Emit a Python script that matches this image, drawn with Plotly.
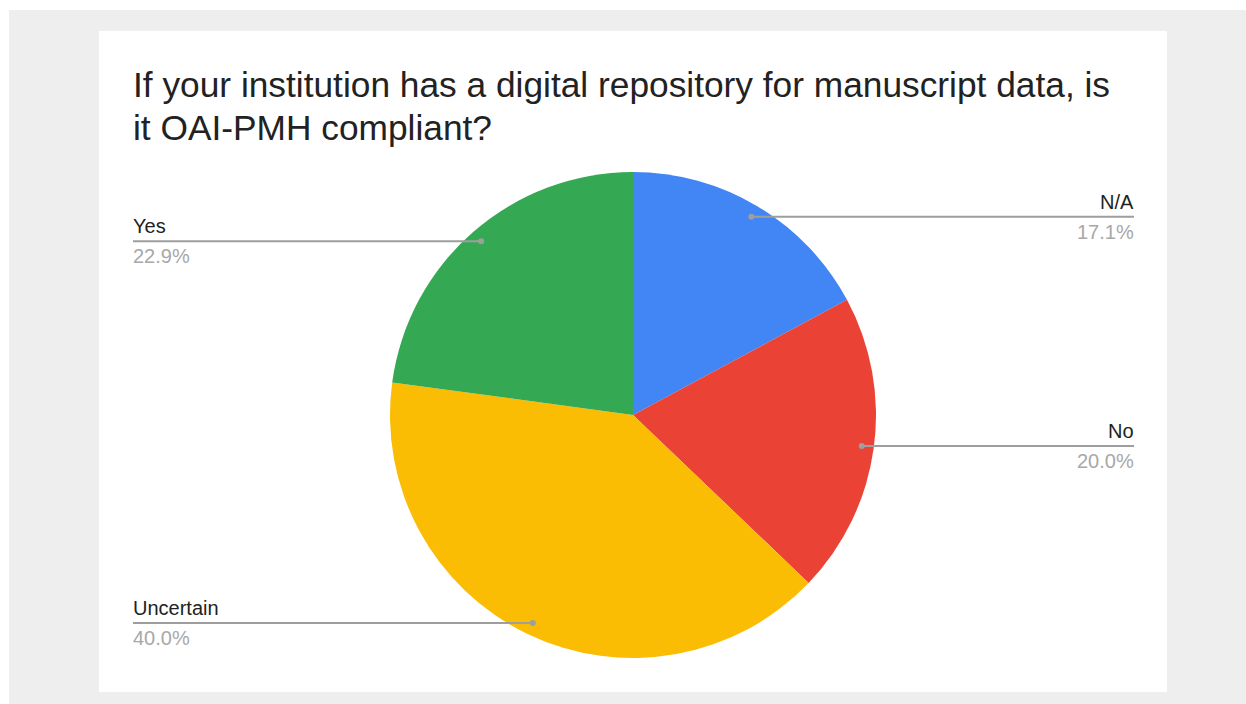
import math
import plotly.graph_objects as go

# survey answers (35 responses)
labels = ["N/A", "No", "Uncertain", "Yes"]
counts = [6, 7, 14, 8]
colors = ["#4285F4", "#EA4335", "#FBBC04", "#34A853"]
title_lines = [
    "If your institution has a digital repository for manuscript data, is",
    "it OAI-PMH compliant?",
]

W, H = 1246, 704
CX, CY, R = 633, 415, 243          # pie centre / radius in pixels
LEFT_X, RIGHT_X = 133, 1134        # where leader lines end
FONT = "Arial, Liberation Sans, sans-serif"


def px(x):
    return x / W


def py(y):
    return 1 - y / H


fig = go.Figure(go.Pie(
    labels=labels,
    values=counts,
    marker=dict(colors=colors, line=dict(width=0)),
    sort=False,
    direction="clockwise",
    rotation=0,
    textinfo="none",
    hoverinfo="label+percent",
    showlegend=False,
    domain=dict(x=[px(CX - R), px(CX + R)], y=[py(CY + R), py(CY - R)]),
))

shapes = [
    # grey page background and white card
    dict(type="rect", xref="paper", yref="paper", x0=px(9), x1=1, y0=0, y1=py(10),
         fillcolor="#eeeeee", line=dict(width=0), layer="below"),
    dict(type="rect", xref="paper", yref="paper", x0=px(99), x1=px(1167), y0=py(692), y1=py(31),
         fillcolor="white", line=dict(width=0), layer="below"),
]
annotations = []

# title, one annotation per line
for i, line in enumerate(title_lines):
    annotations.append(dict(
        text=line, xref="paper", yref="paper", x=px(LEFT_X - 2), y=py(84 + 43 * i),
        xanchor="left", yanchor="middle", showarrow=False,
        font=dict(family=FONT, size=35.3, color="#222222"),
    ))

# leader lines + labels, placed from each slice's mid angle
total = sum(counts)
cum = 0
for lab, c in zip(labels, counts):
    mid = (cum + c / 2) / total * 2 * math.pi
    cum += c
    dx = CX + 0.95 * R * math.sin(mid)
    dy = CY - 0.95 * R * math.cos(mid)
    right = math.sin(mid) > 0
    end = RIGHT_X if right else LEFT_X
    shapes.append(dict(type="line", xref="paper", yref="paper",
                       x0=px(dx), x1=px(end), y0=py(dy), y1=py(dy),
                       line=dict(color="#9e9e9e", width=2)))
    shapes.append(dict(type="circle", xref="paper", yref="paper",
                       x0=px(dx - 3), x1=px(dx + 3), y0=py(dy + 3), y1=py(dy - 3),
                       fillcolor="#9e9e9e", line=dict(width=0)))
    anchor = "right" if right else "left"
    tx = end + 2 if right else end - 2
    annotations.append(dict(
        text=lab, xref="paper", yref="paper", x=px(tx), y=py(dy - 15),
        xanchor=anchor, yanchor="middle", showarrow=False,
        font=dict(family=FONT, size=20, color="#222222"),
    ))
    annotations.append(dict(
        text=f"{c / total * 100:.1f}%", xref="paper", yref="paper", x=px(tx), y=py(dy + 15),
        xanchor=anchor, yanchor="middle", showarrow=False,
        font=dict(family=FONT, size=20, color="#a8a8a8"),
    ))

fig.update_layout(
    width=W,
    height=H,
    margin=dict(l=0, r=0, t=0, b=0),
    paper_bgcolor="white",
    plot_bgcolor="white",
    shapes=shapes,
    annotations=annotations,
)

# drop the default body margin so the figure fills the window exactly
fig.write_html(
    "out.html",
    config={"displayModeBar": False},
    post_script="document.body.style.margin='0';document.body.style.overflow='hidden';",
)
